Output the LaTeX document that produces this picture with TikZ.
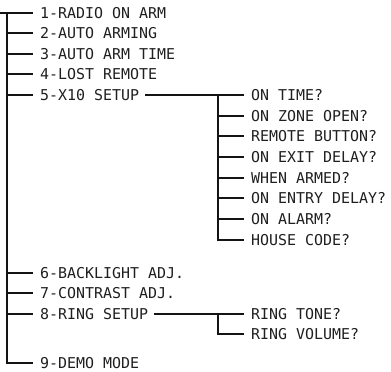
\documentclass[tikz,border=0pt]{standalone}
\usepackage{fontspec}
\setmonofont{DejaVu Sans Mono}
\usetikzlibrary{calc}
\begin{document}
\begin{tikzpicture}[x=1bp,y=-1bp,
  lbl/.style={anchor=west,inner sep=0pt,text height=10.6pt,text depth=0pt,
    font=\ttfamily\fontsize{15}{15}\selectfont,text=black!88},
  wire/.style={line width=2bp,line cap=butt,line join=miter,draw=black!92}]
\useasboundingbox (0,0) rectangle (391,372);
% main menu
\node[lbl] (n1) at (40,13)  {1-RADIO ON ARM};
\node[lbl] (n2) at (40,33)  {2-AUTO ARMING};
\node[lbl] (n3) at (40,54)  {3-AUTO ARM TIME};
\node[lbl] (n4) at (40,74)  {4-LOST REMOTE};
\node[lbl] (n5) at (40,95)  {5-X10 SETUP};
\node[lbl] (n6) at (40,273) {6-BACKLIGHT ADJ.};
\node[lbl] (n7) at (40,293) {7-CONTRAST ADJ.};
\node[lbl] (n8) at (40,314) {8-RING SETUP};
\node[lbl] (n9) at (40,363) {9-DEMO MODE};
% X10 submenu
\node[lbl] (s1) at (251,95)  {ON TIME?};
\node[lbl] (s2) at (251,116) {ON ZONE OPEN?};
\node[lbl] (s3) at (251,136) {REMOTE BUTTON?};
\node[lbl] (s4) at (251,157) {ON EXIT DELAY?};
\node[lbl] (s5) at (251,178) {WHEN ARMED?};
\node[lbl] (s6) at (251,198) {ON ENTRY DELAY?};
\node[lbl] (s7) at (251,219) {ON ALARM?};
\node[lbl] (s8) at (251,240) {HOUSE CODE?};
% ring submenu
\node[lbl] (r1) at (251,314) {RING TONE?};
\node[lbl] (r2) at (251,334) {RING VOLUME?};
% trunk
\coordinate (top) at (0,13);
\coordinate (tk) at (7,13);
\draw[wire] (top) -- ($(n1.west)+(-7,0)$);
\draw[wire] (tk) |- ($(n9.west)+(-7,0)$);
\foreach \n in {n2,n3,n4,n5,n6,n7,n8}
  \draw[wire] (\n.west -| tk) -- ($(\n.west)+(-7,0)$);
% X10 branch
\coordinate (sv) at (218,95);
\draw[wire] ($(n5.east)+(6,0)$) -- ($(s1.west)+(-7,0)$);
\draw[wire] (sv) |- ($(s8.west)+(-7,0)$);
\foreach \n in {s2,s3,s4,s5,s6,s7}
  \draw[wire] (\n.west -| sv) -- ($(\n.west)+(-7,0)$);
% ring branch
\coordinate (rv) at (218,314);
\draw[wire] ($(n8.east)+(6,0)$) -- ($(r1.west)+(-7,0)$);
\draw[wire] (rv) |- ($(r2.west)+(-7,0)$);
\end{tikzpicture}
\end{document}
